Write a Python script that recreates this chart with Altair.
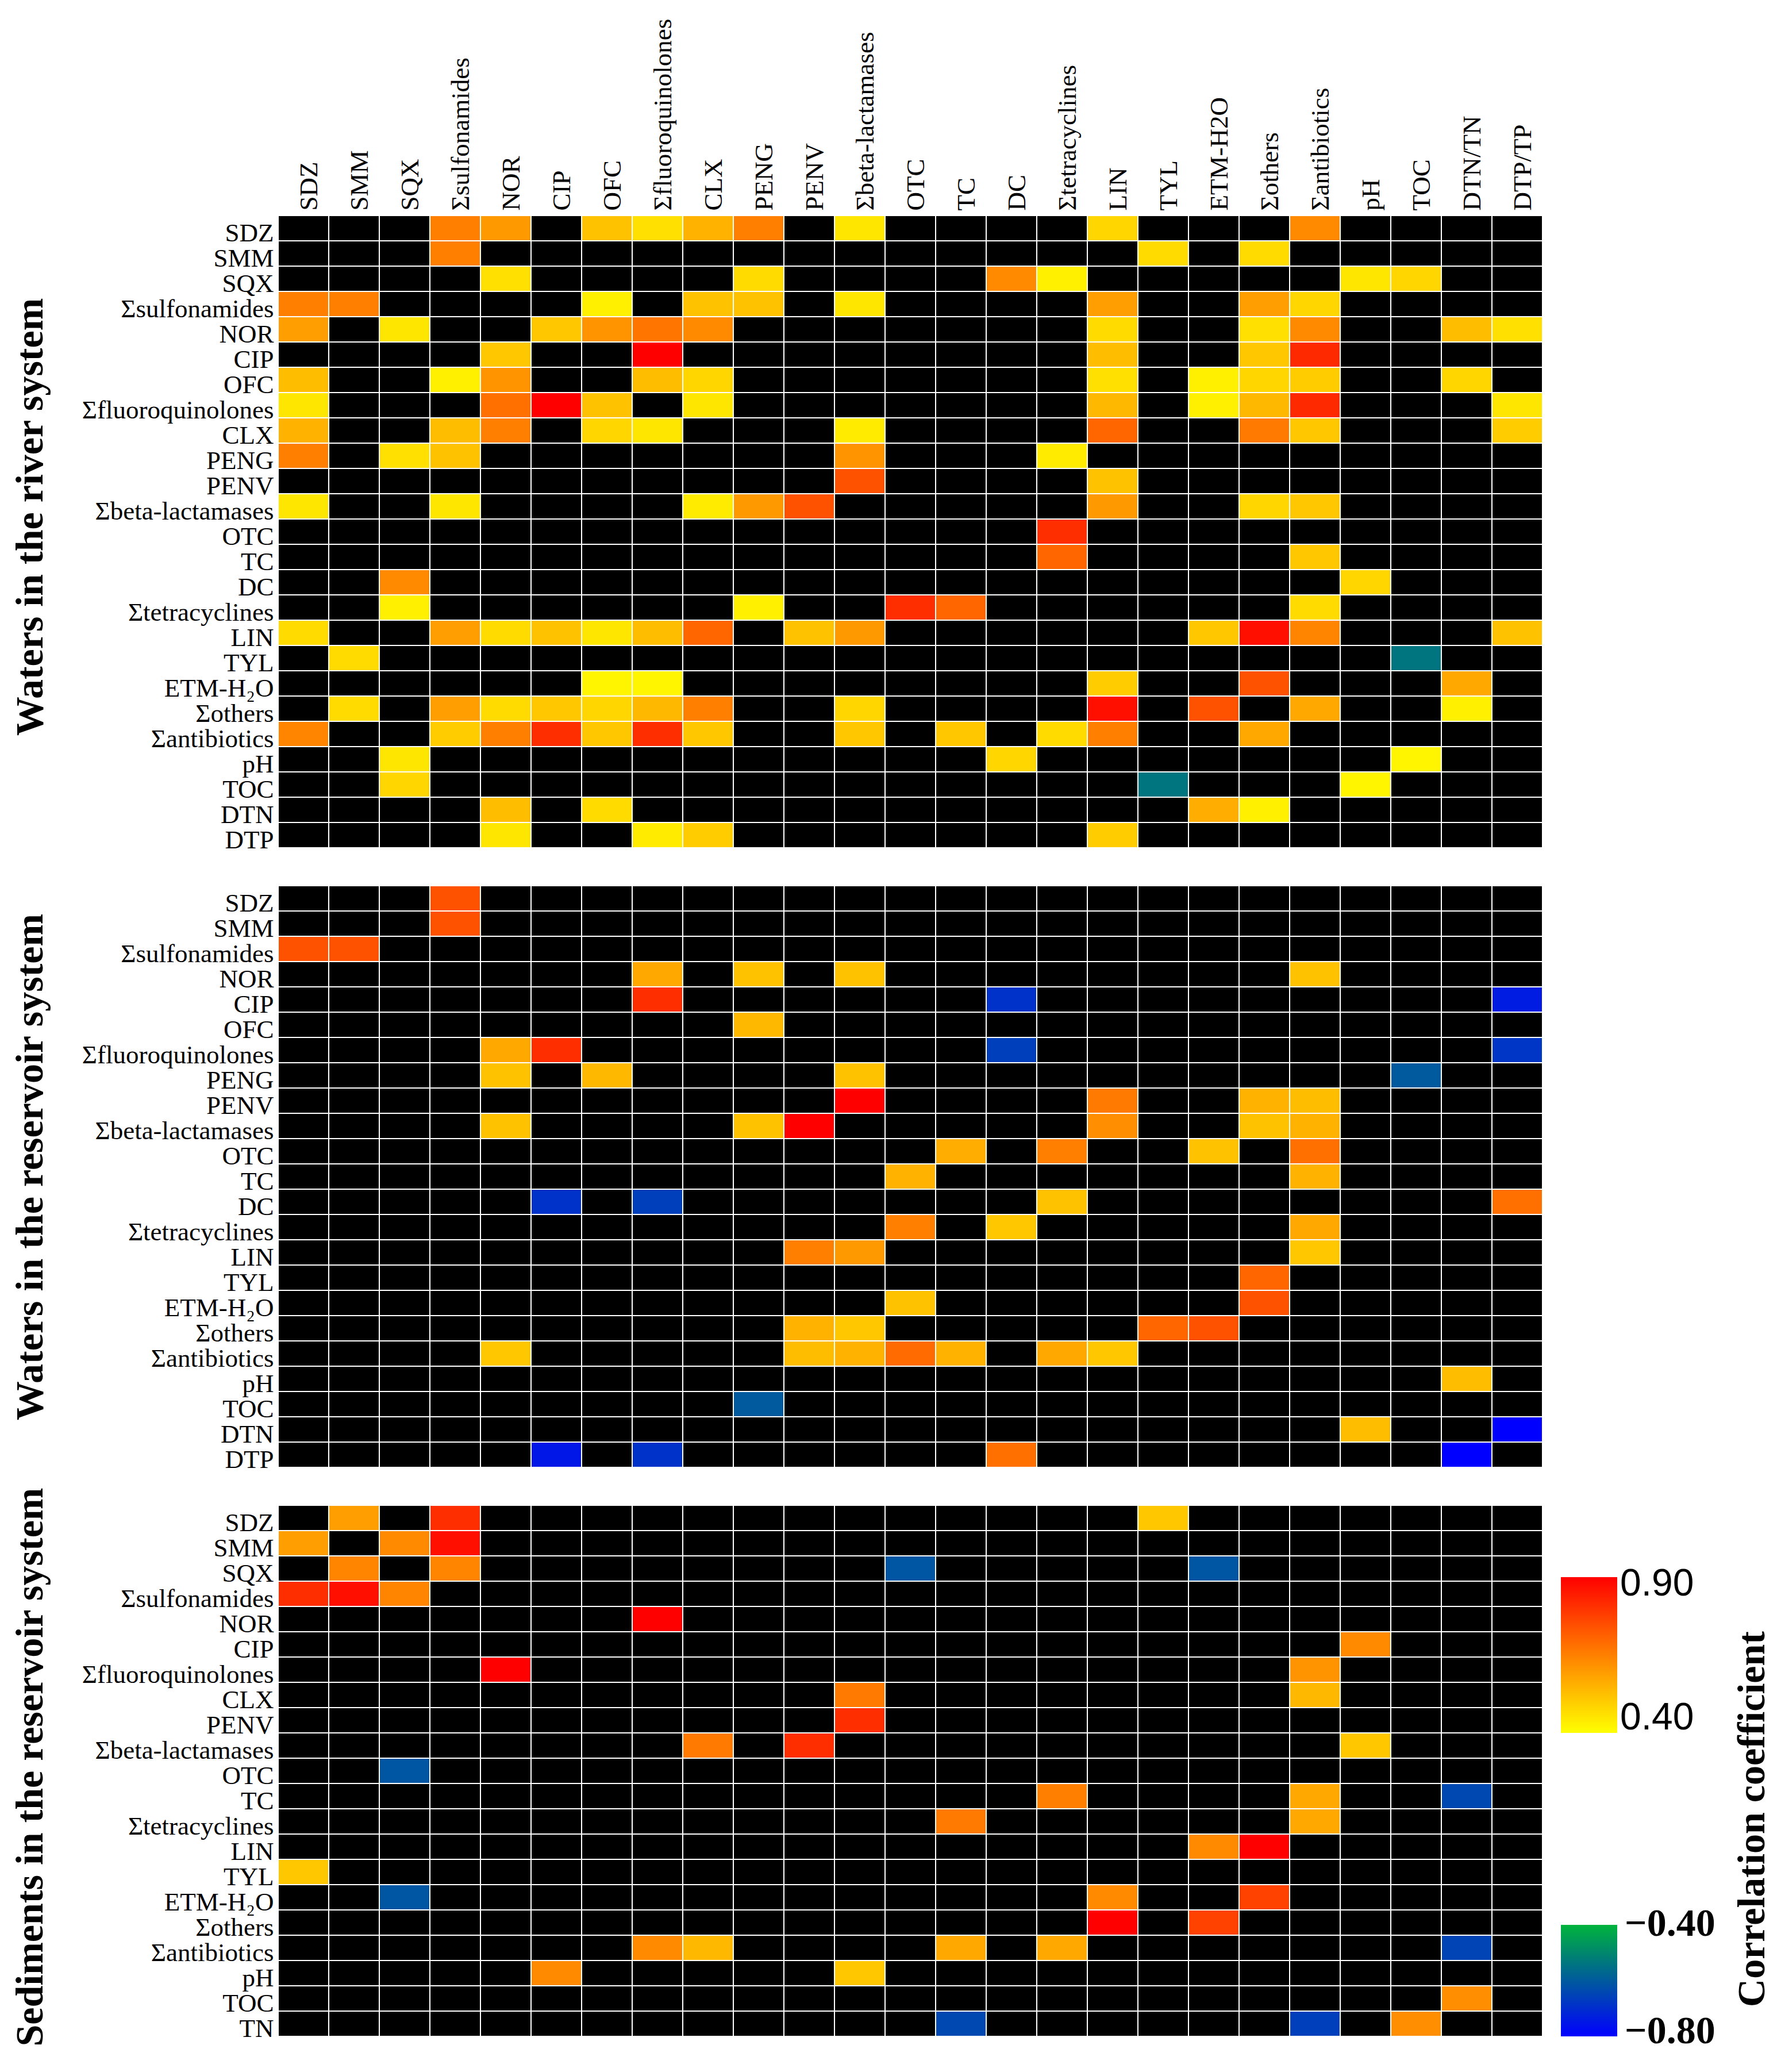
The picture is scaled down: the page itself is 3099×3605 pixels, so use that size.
import altair as alt
import pandas as pd

# ---------------- data ----------------
cols = ["SDZ", "SMM", "SQX", "Σsulfonamides", "NOR", "CIP", "OFC", "Σfluoroquinolones",
        "CLX", "PENG", "PENV", "Σbeta-lactamases", "OTC", "TC", "DC", "Σtetracyclines",
        "LIN", "TYL", "ETM-H2O", "Σothers", "Σantibiotics", "pH", "TOC", "DTN/TN", "DTP/TP"]

river_rows = ["SDZ", "SMM", "SQX", "Σsulfonamides", "NOR", "CIP", "OFC", "Σfluoroquinolones",
              "CLX", "PENG", "PENV", "Σbeta-lactamases", "OTC", "TC", "DC", "Σtetracyclines",
              "LIN", "TYL", "ETM-H₂O", "Σothers", "Σantibiotics", "pH", "TOC", "DTN", "DTP"]

reservoir_water_rows = ["SDZ", "SMM", "Σsulfonamides", "NOR", "CIP", "OFC", "Σfluoroquinolones",
                        "PENG", "PENV", "Σbeta-lactamases", "OTC", "TC", "DC", "Σtetracyclines",
                        "LIN", "TYL", "ETM-H₂O", "Σothers", "Σantibiotics", "pH", "TOC", "DTN", "DTP"]

sediment_rows = ["SDZ", "SMM", "SQX", "Σsulfonamides", "NOR", "CIP", "Σfluoroquinolones", "CLX",
                 "PENV", "Σbeta-lactamases", "OTC", "TC", "Σtetracyclines", "LIN", "TYL",
                 "ETM-H₂O", "Σothers", "Σantibiotics", "pH", "TOC", "TN"]

# significant correlations: row -> [(column index, r), ...]; all other cells are not significant
river_sig = {
    "SDZ": [(3, 0.65), (4, 0.60), (6, 0.52), (7, 0.46), (8, 0.55), (9, 0.65), (11, 0.45), (16, 0.48), (20, 0.63)],
    "SMM": [(3, 0.65), (17, 0.47), (19, 0.47)],
    "SQX": [(4, 0.46), (9, 0.47), (14, 0.63), (15, 0.43), (21, 0.45), (22, 0.48)],
    "Σsulfonamides": [(0, 0.65), (1, 0.65), (6, 0.43), (8, 0.52), (9, 0.52), (11, 0.45), (16, 0.59), (19, 0.59), (20, 0.48)],
    "NOR": [(0, 0.59), (2, 0.45), (5, 0.51), (6, 0.61), (7, 0.67), (8, 0.63), (16, 0.47), (19, 0.46), (20, 0.63), (23, 0.53), (24, 0.46)],
    "CIP": [(4, 0.51), (7, 0.90), (16, 0.53), (19, 0.51), (20, 0.82)],
    "OFC": [(0, 0.53), (3, 0.43), (4, 0.61), (7, 0.53), (8, 0.48), (16, 0.46), (18, 0.43), (19, 0.48), (20, 0.50), (23, 0.48)],
    "Σfluoroquinolones": [(0, 0.45), (4, 0.68), (5, 0.90), (6, 0.52), (8, 0.45), (16, 0.54), (18, 0.43), (19, 0.54), (20, 0.82), (24, 0.45)],
    "CLX": [(0, 0.55), (3, 0.53), (4, 0.65), (6, 0.48), (7, 0.45), (11, 0.44), (16, 0.70), (19, 0.66), (20, 0.51), (24, 0.50)],
    "PENG": [(0, 0.65), (2, 0.46), (3, 0.52), (11, 0.61), (15, 0.44)],
    "PENV": [(11, 0.74), (16, 0.52)],
    "Σbeta-lactamases": [(0, 0.45), (3, 0.45), (8, 0.44), (9, 0.60), (10, 0.74), (16, 0.60), (19, 0.48), (20, 0.51)],
    "OTC": [(15, 0.81)],
    "TC": [(15, 0.70), (20, 0.51)],
    "DC": [(2, 0.63), (21, 0.48)],
    "Σtetracyclines": [(2, 0.43), (9, 0.43), (12, 0.81), (13, 0.70), (20, 0.47)],
    "LIN": [(0, 0.47), (3, 0.59), (4, 0.47), (5, 0.52), (6, 0.45), (7, 0.53), (8, 0.70), (10, 0.52), (11, 0.60), (18, 0.51), (19, 0.87), (20, 0.64), (24, 0.52)],
    "TYL": [(1, 0.47), (22, -0.54)],
    "ETM-H₂O": [(6, 0.42), (7, 0.42), (16, 0.50), (19, 0.74), (23, 0.57)],
    "Σothers": [(1, 0.47), (3, 0.59), (4, 0.47), (5, 0.51), (6, 0.48), (7, 0.54), (8, 0.65), (11, 0.48), (16, 0.87), (18, 0.74), (20, 0.57), (23, 0.43)],
    "Σantibiotics": [(0, 0.64), (3, 0.50), (4, 0.65), (5, 0.81), (6, 0.51), (7, 0.81), (8, 0.51), (11, 0.51), (13, 0.51), (15, 0.47), (16, 0.65), (19, 0.57)],
    "pH": [(2, 0.45), (14, 0.48), (22, 0.42)],
    "TOC": [(2, 0.48), (17, -0.54), (21, 0.42)],
    "DTN": [(4, 0.53), (6, 0.47), (18, 0.56), (19, 0.43)],
    "DTP": [(4, 0.45), (7, 0.44), (8, 0.50), (16, 0.50)],
}

reservoir_water_sig = {
    "SDZ": [(3, 0.74)],
    "SMM": [(3, 0.74)],
    "Σsulfonamides": [(0, 0.74), (1, 0.74)],
    "NOR": [(7, 0.57), (9, 0.52), (11, 0.52), (20, 0.52)],
    "CIP": [(7, 0.81), (14, -0.69), (24, -0.74)],
    "OFC": [(9, 0.54)],
    "Σfluoroquinolones": [(4, 0.57), (5, 0.81), (14, -0.66), (24, -0.68)],
    "PENG": [(4, 0.52), (6, 0.54), (11, 0.52), (22, -0.60)],
    "PENV": [(11, 0.90), (16, 0.66), (19, 0.55), (20, 0.53)],
    "Σbeta-lactamases": [(4, 0.52), (9, 0.52), (10, 0.90), (16, 0.62), (19, 0.52), (20, 0.55)],
    "OTC": [(13, 0.56), (15, 0.65), (18, 0.52), (20, 0.68)],
    "TC": [(12, 0.55), (20, 0.55)],
    "DC": [(5, -0.69), (7, -0.66), (15, 0.52), (24, 0.68)],
    "Σtetracyclines": [(12, 0.65), (14, 0.51), (20, 0.57)],
    "LIN": [(10, 0.65), (11, 0.60), (20, 0.51)],
    "TYL": [(19, 0.70)],
    "ETM-H₂O": [(12, 0.52), (19, 0.74)],
    "Σothers": [(10, 0.55), (11, 0.51), (17, 0.70), (18, 0.74)],
    "Σantibiotics": [(4, 0.51), (10, 0.53), (11, 0.55), (12, 0.69), (13, 0.55), (15, 0.57), (16, 0.51)],
    "pH": [(23, 0.53)],
    "TOC": [(9, -0.60)],
    "DTN": [(21, 0.53), (24, -0.80)],
    "DTP": [(5, -0.75), (7, -0.69), (14, 0.68), (23, -0.80)],
}

sediment_sig = {
    "SDZ": [(1, 0.59), (3, 0.81), (17, 0.51)],
    "SMM": [(0, 0.59), (2, 0.63), (3, 0.87)],
    "SQX": [(1, 0.64), (3, 0.64), (12, -0.61), (18, -0.61)],
    "Σsulfonamides": [(0, 0.81), (1, 0.87), (2, 0.64)],
    "NOR": [(7, 0.90)],
    "CIP": [(21, 0.63)],
    "Σfluoroquinolones": [(4, 0.90), (20, 0.61)],
    "CLX": [(11, 0.66), (20, 0.54)],
    "PENV": [(11, 0.81)],
    "Σbeta-lactamases": [(8, 0.66), (10, 0.81), (21, 0.51)],
    "OTC": [(2, -0.61)],
    "TC": [(15, 0.65), (20, 0.57), (23, -0.64)],
    "Σtetracyclines": [(13, 0.66), (20, 0.57)],
    "LIN": [(18, 0.63), (19, 0.90)],
    "TYL": [(0, 0.51)],
    "ETM-H₂O": [(2, -0.61), (16, 0.63), (19, 0.77)],
    "Σothers": [(16, 0.90), (18, 0.77)],
    "Σantibiotics": [(7, 0.63), (8, 0.54), (13, 0.57), (15, 0.57), (23, -0.65)],
    "pH": [(5, 0.63), (11, 0.51)],
    "TOC": [(23, 0.62)],
    "TN": [(13, -0.64), (20, -0.66), (22, 0.62)],
}

panel_titles = ["Waters in the river system", "Waters in the reservoir system",
                "Sediments in the reservoir system"]
legend_pos_labels = ["0.90", "0.40"]
legend_neg_labels = ["\u22120.40", "\u22120.80"]
legend_title = "Correlation coefficient"

# ---------------- style ----------------
SERIF = "Liberation Serif"
SANS = "Liberation Sans"
CELL_W = 88
CELL_H = 44
PLOT_W = CELL_W * len(cols)

color_scale = alt.Scale(domain=[-0.8, -0.4, 0.4, 0.9],
                        range=["#0000ff", "#00b43c", "#ffff00", "#ff0000"],
                        interpolate="rgb")


def grid_frame(rows):
    return pd.DataFrame([{"row": r, "col": c} for r in rows for c in cols])


def sig_frame(sig):
    return pd.DataFrame([{"row": r, "col": cols[ci], "r": v}
                         for r, lst in sig.items() for ci, v in lst])


def panel(rows, sig, title, title_y, show_x, extra=()):
    if show_x:
        x_axis = alt.Axis(orient="top", labelAngle=270, labelFont=SERIF, labelFontSize=45,
                          labelColor="black", labelPadding=9, labelLimit=1000,
                          labelOverlap=False, labelOffset=10, ticks=False, domain=False,
                          title=None)
    else:
        x_axis = None
    y_axis = alt.Axis(labelFont=SERIF, labelFontSize=45, labelColor="black", labelPadding=8,
                      labelLimit=1000, labelOverlap=False, labelOffset=9, ticks=False,
                      domain=False, title=title, titleFont=SERIF, titleFontSize=68,
                      titleFontWeight="bold", titleColor="black", titleAngle=270,
                      titleAlign="center", titleBaseline="alphabetic", titleX=-411,
                      titleY=title_y)
    xenc = alt.X("col:N", sort=cols, scale=alt.Scale(domain=cols), axis=x_axis)
    yenc = alt.Y("row:N", sort=rows, scale=alt.Scale(domain=rows), axis=y_axis)
    base = alt.Chart(grid_frame(rows)).mark_rect(color="black", stroke="white",
                                                 strokeWidth=2).encode(x=xenc, y=yenc)
    top = alt.Chart(sig_frame(sig)).mark_rect(stroke="white", strokeWidth=2).encode(
        x=xenc, y=yenc, color=alt.Color("r:Q", scale=color_scale, legend=None))
    return alt.layer(base, top, *extra).properties(width=PLOT_W, height=CELL_H * len(rows))


one = pd.DataFrame({"k": [0]})
pos_bar = alt.Chart(one).mark_rect(color=alt.LinearGradient(
    gradient="linear", x1=0, x2=0, y1=1, y2=0,
    stops=[alt.GradientStop(color="#ffff00", offset=0),
           alt.GradientStop(color="#ff8000", offset=0.5),
           alt.GradientStop(color="#ff0000", offset=1)])).encode(
    x=alt.value(2232), x2=alt.value(2330), y=alt.value(125), y2=alt.value(396))
neg_bar = alt.Chart(one).mark_rect(color=alt.LinearGradient(
    gradient="linear", x1=0, x2=0, y1=0, y2=1,
    stops=[alt.GradientStop(color="#00b43c", offset=0),
           alt.GradientStop(color="#0000ff", offset=1)])).encode(
    x=alt.value(2232), x2=alt.value(2330), y=alt.value(730), y2=alt.value(924))
t_090 = alt.Chart(one).mark_text(text=legend_pos_labels[0], font=SANS, fontSize=66,
                                 align="left", baseline="alphabetic", color="black").encode(
    x=alt.value(2335), y=alt.value(157))
t_040 = alt.Chart(one).mark_text(text=legend_pos_labels[1], font=SANS, fontSize=66,
                                 align="left", baseline="alphabetic", color="black").encode(
    x=alt.value(2335), y=alt.value(390))
t_m040 = alt.Chart(one).mark_text(text=legend_neg_labels[0], font=SERIF, fontSize=68,
                                  fontWeight="bold", align="left", baseline="alphabetic",
                                  color="black").encode(x=alt.value(2343), y=alt.value(749))
t_m080 = alt.Chart(one).mark_text(text=legend_neg_labels[1], font=SERIF, fontSize=68,
                                  fontWeight="bold", align="left", baseline="alphabetic",
                                  color="black").encode(x=alt.value(2343), y=alt.value(936))
t_title = alt.Chart(one).mark_text(text=legend_title, font=SERIF, fontSize=68,
                                   fontWeight="bold", angle=270, align="center",
                                   baseline="alphabetic", color="black").encode(
    x=alt.value(2586), y=alt.value(546))

p1 = panel(river_rows, river_sig, panel_titles[0], 524, True)
p2 = panel(reservoir_water_rows, reservoir_water_sig, panel_titles[1], 489, False)
p3 = panel(sediment_rows, sediment_sig, panel_titles[2], 455, False,
           extra=(pos_bar, neg_bar, t_090, t_040, t_m040, t_m080, t_title))

chart = alt.vconcat(p1, p2, p3, spacing=66, bounds="flush").resolve_scale(
    x="independent", y="independent", color="shared"
).configure_view(stroke=None).properties(
    padding={"left": 11, "top": 24, "right": 5, "bottom": 5},
    background="white",
)

chart.save("out.html", embed_options={"renderer": "svg", "actions": False})
